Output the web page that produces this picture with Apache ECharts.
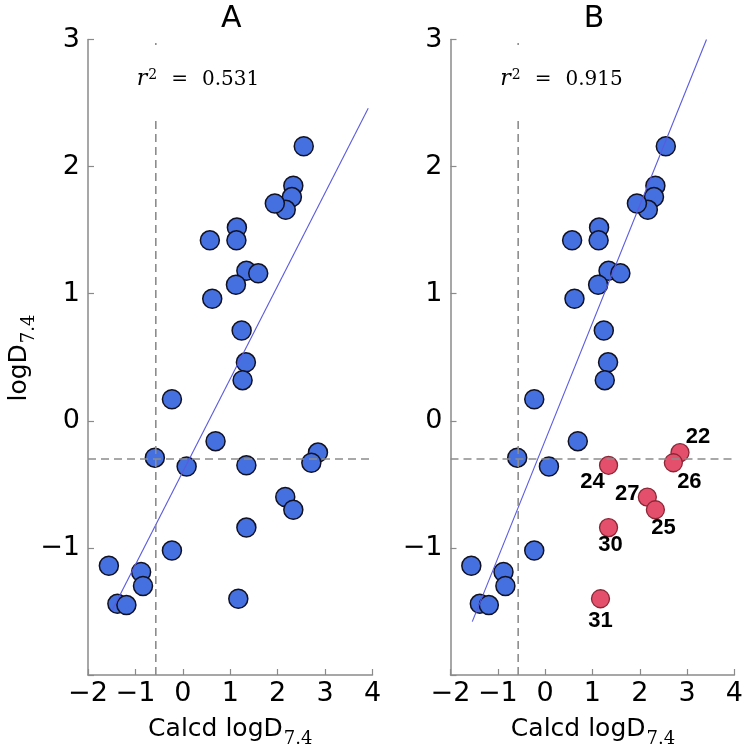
<!DOCTYPE html>
<html>
<head>
<meta charset="utf-8">
<script src="https://cdn.jsdelivr.net/npm/echarts@6/dist/echarts.min.js"></script>
<style>
html,body{margin:0;padding:0;background:#fff;}
#chart{width:746px;height:750px;}
</style>
</head>
<body>
<div id="chart"></div>
<script>
// ---------- data ----------
const calcdLogD = [2.55, 2.33, 2.30, 2.17, 1.94, 1.14, 1.13, 0.57, 1.34, 1.59, 1.12, 0.62, 1.24, 1.33, 1.26, -0.23, 0.69, -0.59, 0.08, 1.34, 2.85, 2.71, 2.16, 2.33, 1.34, -0.23, -1.56, -0.88, -0.84, -1.38, -1.19, 1.17];
const measLogD  = [2.16, 1.85, 1.76, 1.66, 1.71, 1.52, 1.42, 1.42, 1.18, 1.16, 1.07, 0.96, 0.71, 0.46, 0.32, 0.17, -0.16, -0.29, -0.36, -0.35, -0.25, -0.33, -0.60, -0.70, -0.84, -1.02, -1.14, -1.19, -1.30, -1.44, -1.45, -1.40];
const outlierIndex  = [19, 20, 21, 22, 23, 24, 31];
const outlierLabels = ['24', '22', '26', '27', '25', '30', '31'];
const fitAX = [-1.49, 3.91];
const fitAY = [-1.49, 2.46];
const fitBX = [-1.54, 3.41];
const fitBY = [-1.58, 3.00];
const refX = -0.57;
const refY = -0.30;
const r2Values = ['0.531', '0.915'];
const panelTitles = ['A', 'B'];
const xTicks = [-2, -1, 0, 1, 2, 3, 4];
const yTicks = [-2, -1, 0, 1, 2, 3];

// ---------- styling / layout ----------
const labelOffsets = {'22':[18,-16], '26':[16,19], '24':[-16,17], '27':[-20,-3], '25':[8,18], '30':[2,17], '31':[0,22]};
const SANS = 'DejaVu Sans';
const SERIF = 'DejaVu Serif';
const fmt = v => (v < 0 ? '\u2212' + Math.abs(v) : String(v));
const blue = '#4570e0', blueEdge = '#111122';
const red = '#e4506c', redEdge = '#8a2636';

const grids = [
  {left: 88, top: 39.5, width: 284.5, height: 635.5},
  {left: 450.5, top: 39.5, width: 285, height: 635.5}
];

function xAxis(i){
  return {type:'value', gridIndex:i, min:xTicks[0], max:xTicks[xTicks.length-1], interval:1,
    axisLine:{show:true, onZero:false, lineStyle:{color:'#8a8a8a', width:1.5}},
    axisTick:{show:true, inside:true, length:6, lineStyle:{color:'#8a8a8a', width:1.2}},
    axisLabel:{formatter:fmt, fontFamily:SANS, fontSize:27, color:'#000', margin:5},
    splitLine:{show:false}};
}
function yAxis(i){
  return {type:'value', gridIndex:i, min:yTicks[0], max:yTicks[yTicks.length-1], interval:1,
    axisLine:{show:true, onZero:false, lineStyle:{color:'#8a8a8a', width:1.5}},
    axisTick:{show:true, inside:true, length:6, lineStyle:{color:'#8a8a8a', width:1.2}},
    axisLabel:{formatter: v => (v === yTicks[0] ? '' : fmt(v)), fontFamily:SANS, fontSize:27, color:'#000', margin:8},
    splitLine:{show:false}};
}

const allPts = calcdLogD.map((x, i) => [x, measLogD[i]]);
const bluePtsB = allPts.filter((p, i) => outlierIndex.indexOf(i) < 0);
const redPtsB = outlierIndex.map((idx, k) => {
  const lab = outlierLabels[k];
  return {value: allPts[idx], name: lab,
    label:{show:true, formatter: lab, position:'inside', offset: labelOffsets[lab]}};
});

function dashedSeries(i){
  return [
    {type:'line', xAxisIndex:i, yAxisIndex:i, data:[[refX, yTicks[0]], [refX, yTicks[yTicks.length-1]]],
      symbol:'none', z:4, silent:true, lineStyle:{color:'#8c8c8c', width:1.6, type:[8,5]}},
    {type:'line', xAxisIndex:i, yAxisIndex:i, data:[[xTicks[0], refY], [xTicks[xTicks.length-1], refY]],
      symbol:'none', z:4, silent:true, lineStyle:{color:'#8c8c8c', width:1.6, type:[8,5]}}
  ];
}

const series = [
  {type:'scatter', xAxisIndex:0, yAxisIndex:0, data: allPts, symbolSize:19, z:2,
    itemStyle:{color:blue, borderColor:blueEdge, borderWidth:1.5, opacity:1}},
  {type:'line', xAxisIndex:0, yAxisIndex:0, data: fitAX.map((x,i)=>[x, fitAY[i]]), symbol:'none', z:3,
    lineStyle:{color:'#5a5ae0', width:1.1}},
  ...dashedSeries(0),
  {type:'scatter', xAxisIndex:1, yAxisIndex:1, data: bluePtsB, symbolSize:19, z:2,
    itemStyle:{color:blue, borderColor:blueEdge, borderWidth:1.5, opacity:1}},
  {type:'scatter', xAxisIndex:1, yAxisIndex:1, data: redPtsB, symbolSize:18, z:2,
    itemStyle:{color:red, borderColor:redEdge, borderWidth:1.3, opacity:1},
    label:{show:true, color:'#000', fontFamily:'Liberation Sans', fontWeight:'bold', fontSize:22}},
  {type:'line', xAxisIndex:1, yAxisIndex:1, data: fitBX.map((x,i)=>[x, fitBY[i]]), symbol:'none', z:3,
    lineStyle:{color:'#5a5ae0', width:1.1}},
  ...dashedSeries(1)
];

const subRich = {
  m:{fontFamily:SANS, fontSize:25, lineHeight:25, verticalAlign:'top', color:'#000'},
  s:{fontFamily:SERIF, fontSize:18, lineHeight:18, padding:[14,0,0,1], verticalAlign:'top', color:'#000'}
};
const r2Rich = {
  r:{fontFamily:SERIF, fontStyle:'italic', fontSize:22, lineHeight:22, padding:[0,0,0,0], verticalAlign:'top', color:'#000'},
  p:{fontFamily:SERIF, fontSize:14, lineHeight:14, padding:[0,0,0,1], verticalAlign:'top', color:'#000'},
  e:{fontFamily:SERIF, fontSize:20, lineHeight:20, padding:[2,14,0,14], verticalAlign:'top', color:'#000'},
  n:{fontFamily:SERIF, fontSize:20, lineHeight:20, padding:[2,0,0,0], verticalAlign:'top', color:'#000'}
};

const panelCenters = grids.map(g => g.left + g.width/2);
const r2Centers = [198, 561.5];
const graphic = [];
panelCenters.forEach((cx, i) => {
  graphic.push({type:'text', x:cx + 1, y:19, z:100,
    style:{text: panelTitles[i], font:'30px "DejaVu Sans"', fill:'#000', align:'center', verticalAlign:'middle'}});
  graphic.push({type:'text', x:cx, y:729, z:100,
    style:{text:'{m|Calcd logD}{s|7.4}', rich:subRich, align:'center', verticalAlign:'middle'}});
  graphic.push({type:'text', x:r2Centers[i], y:81, z:100,
    style:{text:'{r|r}{p|2}{e|=}{n|' + r2Values[i] + '}', rich:r2Rich, align:'center', verticalAlign:'middle',
      backgroundColor:'#fff', padding:[23,8,27,8]}});
});
graphic.push({type:'text', x:19, y:358, rotation:Math.PI/2, z:100,
  style:{text:'{m|logD}{s|7.4}', rich:subRich, align:'center', verticalAlign:'middle'}});

const chart = echarts.init(document.getElementById('chart'), null, {renderer:'canvas'});
chart.setOption({
  animation:false,
  backgroundColor:'#fff',
  grid: grids,
  xAxis: [xAxis(0), xAxis(1)],
  yAxis: [yAxis(0), yAxis(1)],
  series: series,
  graphic: graphic
});
</script>
</body>
</html>
